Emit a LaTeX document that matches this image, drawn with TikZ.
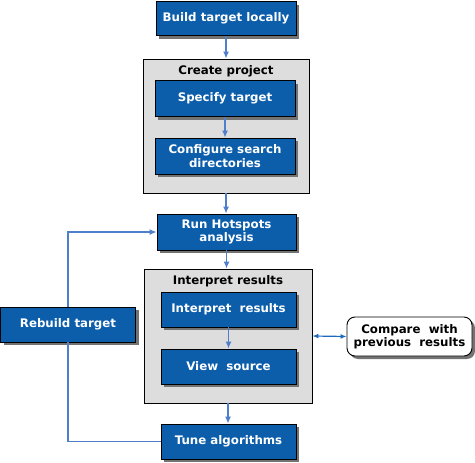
\documentclass[tikz,border=0pt]{standalone}
\usepackage{fontspec}
\setmainfont{DejaVu Sans}
\usepackage{tikz}
\usetikzlibrary{arrows.meta,shadows}

\definecolor{boxblue}{RGB}{12,94,170}
\definecolor{linkblue}{RGB}{79,127,203}
\definecolor{dblblue}{RGB}{26,107,191}
\definecolor{grpgray}{RGB}{221,221,221}

\begin{document}
\begin{tikzpicture}[x=1pt,y=-1pt]
\tikzstyle{stepbox}=[rectangle,draw=black,fill=boxblue,text=white,font=\fontsize{11.8}{13.5}\selectfont\bfseries,align=center,inner sep=1pt,line width=0.9pt,drop shadow={shadow xshift=3pt,shadow yshift=-3pt,fill=black!55,opacity=1}]
\tikzstyle{group}=[rectangle,draw=black,fill=grpgray,line width=0.9pt]
\tikzstyle{grouplabel}=[font=\fontsize{11.8}{13.5}\selectfont\bfseries,text=black]
\tikzstyle{arr}=[draw=linkblue,line width=1.2pt,-{Latex[length=7pt,width=6pt]}]
\tikzstyle{link}=[draw=linkblue,line width=1.2pt]
\tikzstyle{dbl}=[draw=dblblue,line width=1.2pt,{Latex[length=6pt,width=5pt]}-{Latex[length=6pt,width=5pt]}]
\useasboundingbox (0,0) rectangle (475,463);
\node[stepbox,minimum width=140pt,minimum height=34pt] (1) at (226,18.5) {Build target locally};
\node[group,minimum width=166pt,minimum height=134pt] (g1) at (226,126) {};
\node[grouplabel] (g1l) at (226,71) {Create project};
\node[stepbox,minimum width=140pt,minimum height=36pt] (2) at (225,98.5) {Specify target};
\node[stepbox,minimum width=140pt,minimum height=36pt] (3) at (225,156) {Configure search\\directories};
\node[stepbox,minimum width=139pt,minimum height=36pt] (4) at (226.5,232) {Run Hotspots\\analysis};
\node[group,minimum width=168pt,minimum height=134pt] (g2) at (228,336) {};
\node[grouplabel] (g2l) at (228,281) {Interpret results};
\node[stepbox,minimum width=135pt,minimum height=35pt] (5) at (228.5,309.5) {Interpret~ results};
\node[stepbox,minimum width=135pt,minimum height=35pt] (6) at (228.5,366.5) {View~ source};
\node[stepbox,minimum width=135pt,minimum height=35pt] (7) at (228.5,441.5) {Tune algorithms};
\node[stepbox,minimum width=135pt,minimum height=35pt] (8) at (68,324.5) {Rebuild target};
\node[stepbox,fill=white,text=black,rounded corners=8pt,minimum width=125pt,minimum height=39pt] (9) at (409.5,336.5) {Compare~ with\\previous~ results};
\draw[arr] (1) -- (g1);
\draw[arr] (2) -- (3);
\draw[arr] (g1.south) -- (g1.south |- 4.north);
\draw[arr] (4.south) -- (4.south |- g2.north);
\draw[arr] (5) -- (6);
\draw[arr] (g2.south) -- (g2.south |- 7.north);
\draw[link] (7.west) -| (8.south);
\draw[arr] (8.north) |- (4.west);
\draw[dbl] (g2.east) -- (9.west);
\end{tikzpicture}
\end{document}
